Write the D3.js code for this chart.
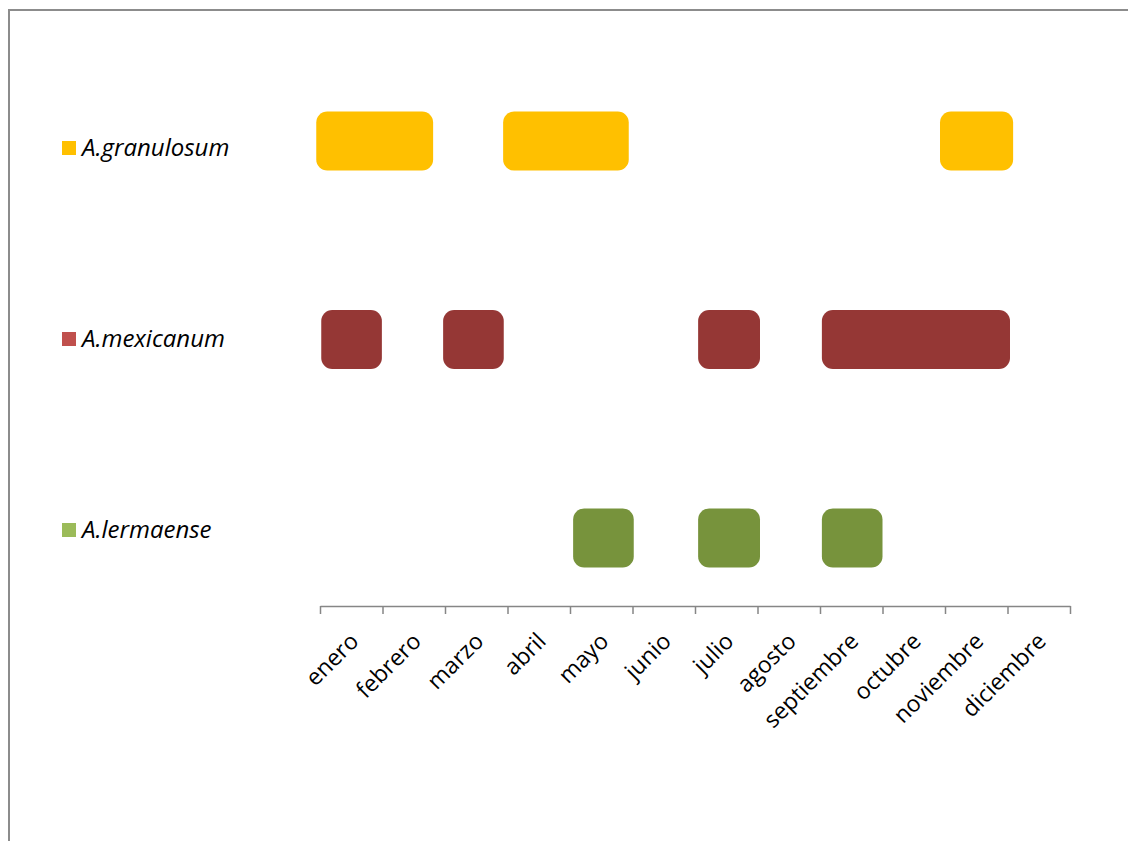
<!DOCTYPE html>
<html>
<head>
<meta charset="utf-8">
<script src="https://cdnjs.cloudflare.com/ajax/libs/d3/7.8.5/d3.min.js"></script>
<style>
  body { margin: 0; background: #fff; }
  text { font-family: "Open Sans", "Noto Sans", sans-serif; }
</style>
</head>
<body>
<div id="chart"></div>
<script>
// months on the axis
var months = ["enero","febrero","marzo","abril","mayo","junio","julio","agosto","septiembre","octubre","noviembre","diciembre"];
var species = ["A.granulosum","A.mexicanum","A.lermaense"];
var barColors = ["#FFC000","#953735","#77933C"];
var legendColors = ["#FFC000","#C0504D","#9BBB59"];

// periods per species, in months from start of enero
var granulosumStart = [-0.06, 2.93, 9.92];
var granulosumEnd   = [1.81, 4.94, 11.09];
var mexicanumStart  = [0.02, 1.97, 6.05, 8.03];
var mexicanumEnd    = [0.99, 2.94, 7.04, 11.04];
var lermaenseStart  = [4.05, 6.05, 8.03];
var lermaenseEnd    = [5.02, 7.04, 9.0];

var W = 1128, H = 841;
var svg = d3.select("#chart").append("svg")
  .attr("width", W).attr("height", H);

// outer frame
svg.append("rect")
  .attr("x", 9).attr("y", 10)
  .attr("width", W + 10).attr("height", H + 10)
  .attr("fill", "none")
  .attr("stroke", "#8c8c8c")
  .attr("stroke-width", 2);

var x = d3.scaleLinear().domain([0, 12]).range([320, 1070]);
var xBand = d3.scaleBand().domain(months).range([320, 1070]);
var y = d3.scalePoint().domain(species).range([141, 538]);
var yLegend = d3.scalePoint().domain(species).range([148, 530]);

var starts = [granulosumStart, mexicanumStart, lermaenseStart];
var ends = [granulosumEnd, mexicanumEnd, lermaenseEnd];
var bars = [];
species.forEach(function(s, i) {
  starts[i].forEach(function(v, j) {
    bars.push({ sp: s, i: i, a: v, b: ends[i][j] });
  });
});

var barH = 59;
svg.selectAll(".bar")
  .data(bars)
  .enter().append("rect")
  .attr("class", "bar")
  .attr("x", function(d) { return x(d.a); })
  .attr("width", function(d) { return x(d.b) - x(d.a); })
  .attr("y", function(d) { return y(d.sp) - barH / 2; })
  .attr("height", barH)
  .attr("rx", 11).attr("ry", 11)
  .attr("fill", function(d) { return barColors[d.i]; });

// x axis: ticks on month borders
var axis = svg.append("g")
  .attr("transform", "translate(0,606)")
  .call(d3.axisBottom(x).tickValues(d3.range(0, 13)).tickFormat("").tickSize(8).tickSizeOuter(0));
axis.selectAll("path, line").attr("stroke", "#868686").attr("stroke-width", 1.5);

// month labels, rotated
svg.selectAll(".mlabel")
  .data(months)
  .enter().append("text")
  .attr("class", "mlabel")
  .attr("transform", function(d) {
    return "translate(" + (xBand(d) + xBand.bandwidth() / 2 + 3) + ",637) rotate(-45)";
  })
  .attr("text-anchor", "end")
  .attr("dy", "0.35em")
  .attr("font-size", 23)
  .attr("fill", "#000")
  .text(function(d) { return d; });

// legend
var leg = svg.selectAll(".leg")
  .data(species)
  .enter().append("g")
  .attr("class", "leg")
  .attr("transform", function(d) { return "translate(62," + yLegend(d) + ")"; });
leg.append("rect")
  .attr("x", 0).attr("y", -7)
  .attr("width", 14).attr("height", 14)
  .attr("fill", function(d, i) { return legendColors[i]; });
leg.append("text")
  .attr("x", 20).attr("dy", "0.35em")
  .attr("font-size", 24)
  .attr("font-style", "italic")
  .attr("fill", "#000")
  .text(function(d) { return d; });
</script>
</body>
</html>
